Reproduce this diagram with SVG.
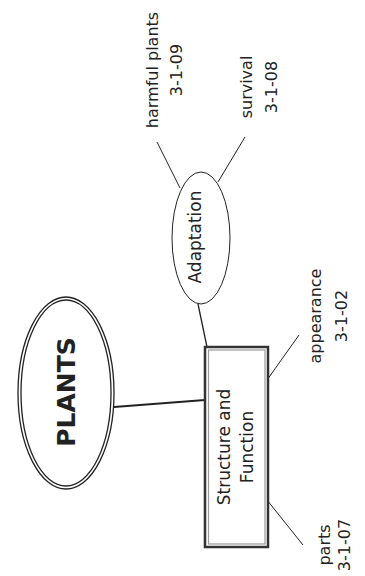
<svg xmlns="http://www.w3.org/2000/svg" width="365" height="576" viewBox="0 0 365 576">
<style>
.lbl{font-family:"DejaVu Sans","Liberation Sans",sans-serif;font-size:16px;fill:#222;text-anchor:middle}
.nd{font-family:"DejaVu Sans","Liberation Sans",sans-serif;font-size:17px;fill:#222;text-anchor:middle}
.ln{stroke:#222;stroke-width:1;fill:none}
</style>
<rect width="365" height="576" fill="#fff"/>
<g id="connectors">
<line class="ln" x1="114" y1="407" x2="205" y2="400" style="stroke-width:2.2"/>
<line class="ln" x1="198" y1="304" x2="207" y2="347" style="stroke-width:1.3"/>
<line class="ln" x1="157" y1="142" x2="180" y2="188"/>
<line class="ln" x1="218" y1="182" x2="245" y2="137"/>
<line class="ln" x1="267" y1="380" x2="299" y2="335"/>
<line class="ln" x1="267" y1="500" x2="303" y2="545"/>
</g>
<g id="plants">
<ellipse cx="66" cy="393" rx="48" ry="96" fill="#fff" stroke="#222" stroke-width="1.3"/>
<ellipse cx="66" cy="393" rx="45" ry="93" fill="none" stroke="#222" stroke-width="1.3"/>
<text transform="translate(75,392) rotate(-90)" text-anchor="middle" font-family="'DejaVu Sans','Liberation Sans',sans-serif" font-weight="bold" font-size="25" fill="#222">PLANTS</text>
</g>
<g id="structure">
<rect x="205" y="347" width="63" height="200" fill="#fff" stroke="#333" stroke-width="2.5"/>
<rect x="208.5" y="350" width="56.5" height="194" fill="none" stroke="#999" stroke-width="1.2"/>
<text class="nd" transform="translate(230,447) rotate(-90)">Structure and<tspan x="0" dy="23">Function</tspan></text>
</g>
<g id="adaptation">
<ellipse cx="201" cy="238" rx="29" ry="66" fill="#fff" stroke="#222" stroke-width="1"/>
<text class="nd" transform="translate(201,237) rotate(-90)">Adaptation</text>
</g>
<g id="harmful">
<text class="lbl" transform="translate(158,70) rotate(-90)">harmful plants<tspan x="0" dy="24">3-1-09</tspan></text>
</g>
<g id="survival">
<text class="lbl" transform="translate(252,87) rotate(-90)">survival<tspan x="0" dy="25">3-1-08</tspan></text>
</g>
<g id="appearance">
<text class="lbl" transform="translate(321,316) rotate(-90)">appearance<tspan x="0" dy="26">3-1-02</tspan></text>
</g>
<g id="parts">
<text class="lbl" transform="translate(330,545) rotate(-90)">parts<tspan x="0" dy="20">3-1-07</tspan></text>
</g>
</svg>
